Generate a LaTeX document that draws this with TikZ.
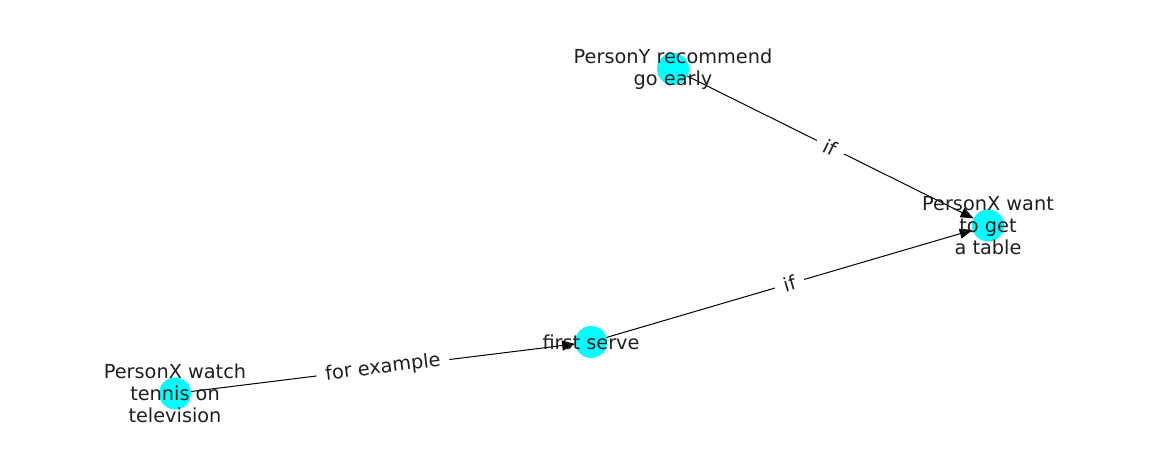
\documentclass[tikz,border=0pt]{standalone}
\usepackage{fontspec}
\setmainfont{DejaVu Sans}
\usetikzlibrary{arrows.meta}
\definecolor{nodecyan}{RGB}{0,255,255}
\begin{document}
\begin{tikzpicture}[x=1pt,y=-1pt,
  dot/.style={circle, fill=nodecyan, minimum size=32pt, inner sep=0pt, outer sep=0pt, draw=none},
  lbl/.style={font=\fontsize{19.3}{22}\selectfont, align=center, text=black!88, inner sep=0pt},
  conn/.style={draw=black, line width=1pt, -{Triangle[length=13pt,width=10pt]}},
  elbl/.style={midway, sloped, fill=white, inner xsep=9pt, inner ysep=4pt, font=\fontsize{19.3}{22}\selectfont, text=black!88}]
\useasboundingbox (0,0) rectangle (1162,462);
\node[dot] (y) at (673,69) {};
\node[dot] (want) at (988,225.5) {};
\node[dot] (fs) at (591,342) {};
\node[dot] (watch) at (175,393.5) {};
\draw[conn] (y) -- node[elbl] {if} (want);
\draw[conn] (fs) -- node[elbl] {if} (want);
\draw[conn] (watch) -- node[elbl] {for example} (fs);
\node[lbl] (ty) at (y) {PersonY recommend\\go early};
\node[lbl] (twant) at (want) {PersonX want\\to get\\a table};
\node[lbl] (tfs) at (fs) {first serve};
\node[lbl] (twatch) at (watch) {PersonX watch\\tennis on\\television};
\end{tikzpicture}
\end{document}
